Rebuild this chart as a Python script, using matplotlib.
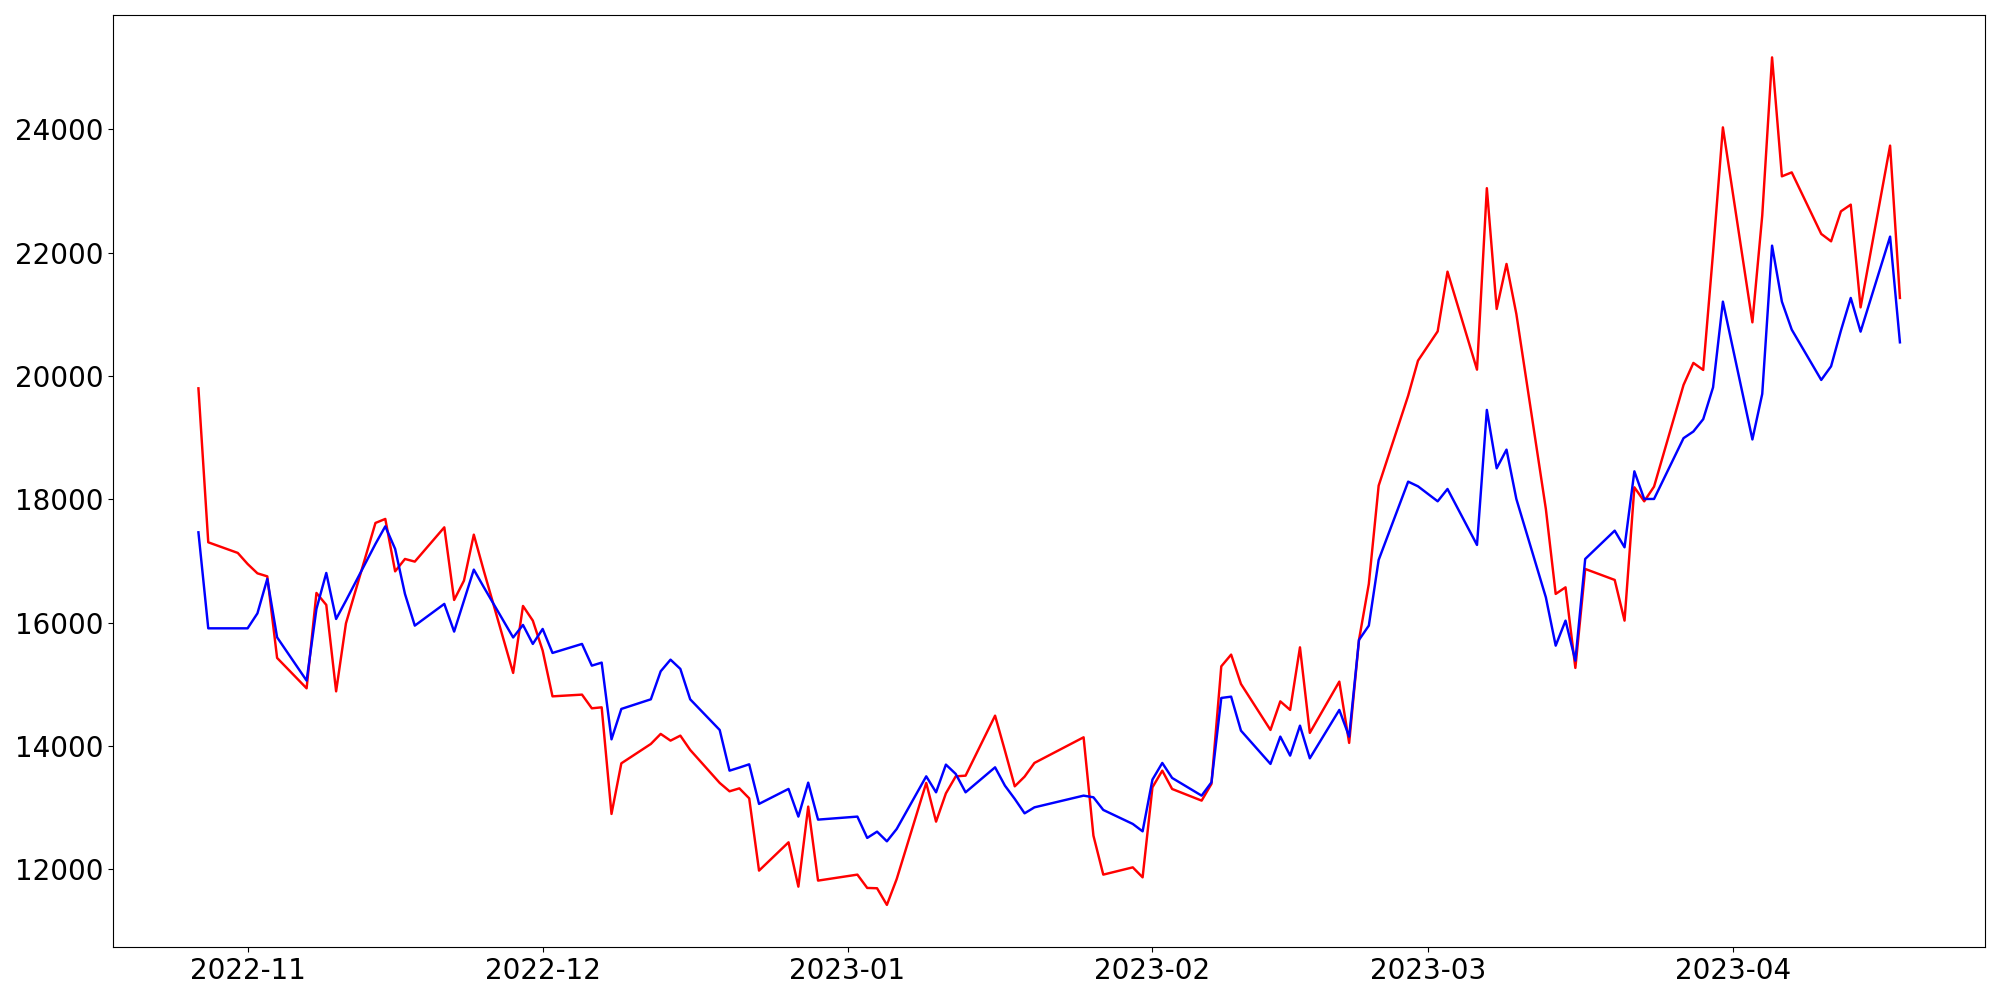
import matplotlib
matplotlib.use('Agg')
import matplotlib.pyplot as plt
import pandas as pd

# trading days (weekdays without market holidays)
holidays = ['2022-12-30', '2023-01-23', '2023-01-24', '2023-03-01']
dates = pd.bdate_range('2022-10-27', '2023-04-18')
dates = dates[~dates.isin(pd.to_datetime(holidays))]

red_values = [
    19800, 17303, 17131,
    16952, 16800, 16751, 15428, 14935, 16482, 16288, 14886, 15989,
    17617, 17682, 16832, 17033, 16990, 17546, 16368, 16682, 17427, 16850,
    15185, 16271, 16033,
    15547, 14805, 14833, 14611, 14627, 12898, 13719, 14033, 14196, 14087,
    14168, 13936, 13401, 13265, 13313, 13151, 11979, 12438, 11719, 13017, 11817,
    11914, 11698, 11693, 11423, 11844, 13401, 12773, 13232, 13508, 13519,
    14492, 13925, 13346, 13503, 13725, 14141, 12546, 11914, 12032, 11870,
    13330, 13600, 13303, 13114, 13385, 15292, 15482, 15006, 14260, 14724,
    14585, 15600, 14212, 15044, 14050, 15720, 16628, 18222, 19681, 20249,
    20724, 21692, 20103, 23046, 21087, 21817, 21006, 17844, 16466, 16573,
    15266, 16871, 16693, 16033, 18195, 17968, 18206, 19855, 20212, 20098,
    22000, 24032,
    20870, 22600, 25167, 23238, 23302, 22304, 22184, 22670, 22779, 21113,
    23736, 21266,
]

blue_values = [
    17465, 15908, 15908,
    15908, 16151, 16709, 15762, 15060, 16223, 16806, 16060, 16357,
    17277, 17562, 17196, 16466, 15952, 16304, 15855, 16357, 16860, 16580,
    15760, 15963, 15655,
    15898, 15509, 15655, 15303, 15352, 14108, 14601, 14757, 15211, 15400,
    15250, 14757, 14260, 13600, 13650, 13703, 13061, 13304, 12855, 13406, 12806,
    12855, 12509, 12611, 12454, 12655, 13508, 13249, 13698, 13547, 13249,
    13654, 13357, 13142, 12908, 13005, 13195, 13168, 12963, 12736, 12616,
    13455, 13725, 13482, 13195, 13411, 14779, 14800, 14249, 13709, 14152,
    13844, 14330, 13800, 14585, 14152, 15720, 15952, 17017, 18287, 18211,
    17968, 18168, 17260, 19450, 18503, 18806, 18006, 16411, 15627, 16033,
    15384, 17033, 17492, 17222, 18454, 18006, 18006, 18992, 19100, 19300,
    19816, 21206,
    18971, 19709, 22114, 21206, 20752, 19936, 20157, 20736, 21266, 20719,
    22260, 20546,
]

fig, ax = plt.subplots(figsize=(20, 10), dpi=100)

ax.plot(dates, red_values, color='red', linewidth=1.75)
ax.plot(dates, blue_values, color='blue', linewidth=1.75)

ax.tick_params(axis='both', labelsize=20)

plt.tight_layout()
plt.savefig('out.png')
